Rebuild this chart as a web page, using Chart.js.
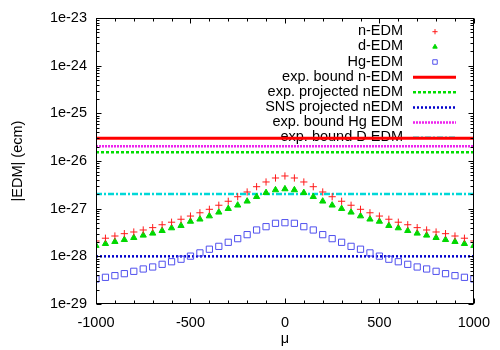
<!DOCTYPE html>
<html>
<head>
<meta charset="utf-8">
<script src="https://cdn.jsdelivr.net/npm/chart.js@4.4.1/dist/chart.umd.min.js"></script>
<style>
html,body{margin:0;padding:0;background:#fff;}
#c{display:block;}
</style>
</head>
<body>
<canvas id="c" width="500" height="350"></canvas>
<script>
// ---- data ----
const muValues = [-1000,-950,-900,-850,-800,-750,-700,-650,-600,-550,-500,-450,-400,-350,-300,-250,-200,-150,-100,-50,0,
                  50,100,150,200,250,300,350,400,450,500,550,600,650,700,750,800,850,900,950,1000];

const nEDM = [2.1e-28,2.4e-28,2.67e-28,2.99e-28,3.24e-28,3.57e-28,4.0e-28,4.6e-28,5.2e-28,6.0e-28,7.0e-28,8.2e-28,9.7e-28,1.18e-27,1.43e-27,1.78e-27,2.24e-27,2.89e-27,3.63e-27,4.4e-27,4.85e-27,
              4.4e-27,3.63e-27,2.89e-27,2.24e-27,1.78e-27,1.43e-27,1.18e-27,9.7e-28,8.2e-28,7.0e-28,6.0e-28,5.2e-28,4.6e-28,4.0e-28,3.57e-28,3.24e-28,2.99e-28,2.67e-28,2.4e-28,2.1e-28];

const dEDM = [1.68e-28,1.84e-28,2.03e-28,2.23e-28,2.46e-28,2.76e-28,3.04e-28,3.45e-28,3.93e-28,4.4e-28,5.4e-28,6.0e-28,7.0e-28,8.4e-28,1.0e-27,1.18e-27,1.43e-27,1.78e-27,2.16e-27,2.47e-27,2.59e-27,
              2.47e-27,2.16e-27,1.78e-27,1.43e-27,1.18e-27,1.0e-27,8.4e-28,7.0e-28,6.0e-28,5.4e-28,4.4e-28,3.93e-28,3.45e-28,3.04e-28,2.76e-28,2.46e-28,2.23e-28,2.03e-28,1.84e-28,1.68e-28];

const hgEDM = [3.35e-29,3.63e-29,3.93e-29,4.33e-29,4.85e-29,5.43e-29,5.98e-29,6.8e-29,7.7e-29,8.7e-29,1.01e-28,1.18e-28,1.41e-28,1.62e-28,1.97e-28,2.35e-28,2.85e-28,3.57e-28,4.19e-28,4.93e-28,5.08e-28,
               4.93e-28,4.19e-28,3.57e-28,2.85e-28,2.35e-28,1.97e-28,1.62e-28,1.41e-28,1.18e-28,1.01e-28,8.7e-29,7.7e-29,6.8e-29,5.98e-29,5.43e-29,4.85e-29,4.33e-29,3.93e-29,3.63e-29,3.35e-29];

const boundLabels = ['exp. bound n-EDM','exp. projected nEDM','SNS projected nEDM','exp. bound Hg EDM','exp. bound D EDM'];
const boundValues = [3.0e-26, 1.52e-26, 1.0e-28, 2.04e-26, 2.03e-27];
const boundRange = [-1000, 1000];

const pointLabels = ['n-EDM','d-EDM','Hg-EDM'];

const xTickValues = [-1000,-500,0,500,1000];
const xTickLabels = ['-1000','-500','0','500','1000'];
const yTickValues = [1e-29,1e-28,1e-27,1e-26,1e-25,1e-24,1e-23];
const yTickLabels = ['1e-29','1e-28','1e-27','1e-26','1e-25','1e-24','1e-23'];

const xTitle = 'μ';
const yTitle = '|EDM| (ecm)';

// ---- styling ----
const FONT = '"Liberation Sans", Arial, Helvetica, sans-serif';
const FS = 14.5;
const pointStyles = [
  {pointStyle:'cross', radius:3.6, color:'#ff1a1a', fill:false},
  {pointStyle:'triangle', radius:3.6, color:'#00d800', fill:true},
  {pointStyle:'rect', radius:4.4, color:'#5050ee', fill:false}
];
const lineStyles = [
  {color:'#ff0000', width:3, dash:[]},
  {color:'#00dd00', width:2.5, dash:[3,2]},
  {color:'#0000cc', width:2.5, dash:[2,2]},
  {color:'#ee22ee', width:2.5, dash:[2,1]},
  {color:'#00d8d8', width:2.5, dash:[6,2,2,2]}
];

function pairs(xs, ys){ return xs.map((x,i)=>({x:x, y:ys[i]})); }

const datasets = [];
[nEDM, dEDM, hgEDM].forEach((arr, i) => {
  const s = pointStyles[i];
  datasets.push({
    label: pointLabels[i],
    data: pairs(muValues, arr),
    showLine: false,
    pointStyle: s.pointStyle,
    pointRadius: s.radius,
    pointHoverRadius: s.radius,
    borderColor: s.color,
    backgroundColor: s.fill ? s.color : 'rgba(0,0,0,0)',
    pointBorderWidth: 1,
    borderWidth: 1,
    order: 1
  });
});
boundValues.forEach((v, i) => {
  const s = lineStyles[i];
  datasets.push({
    label: boundLabels[i],
    data: pairs(boundRange, [v, v]),
    showLine: true,
    pointRadius: 0,
    borderColor: s.color,
    backgroundColor: s.color,
    borderWidth: s.width,
    borderDash: s.dash,
    order: 2
  });
});

// legend drawn inside the plot, gnuplot style (text right aligned, sample at right)
const gnuLegend = {
  id: 'gnuLegend',
  beforeDatasetsDraw(chart) {
    const ctx = chart.ctx;
    const textRight = 403, sampleL = 413, sampleR = 456, y0 = 30.7, dy = 15.15;
    ctx.save();
    ctx.font = FS + 'px ' + FONT;
    ctx.textAlign = 'right';
    ctx.textBaseline = 'middle';
    chart.data.datasets.forEach((ds, i) => {
      const y = y0 + i * dy;
      ctx.fillStyle = '#000';
      ctx.fillText(ds.label, textRight, y + 0.5);
      if (ds.showLine) {
        ctx.save();
        ctx.strokeStyle = ds.borderColor;
        ctx.lineWidth = ds.borderWidth;
        ctx.setLineDash(ds.borderDash || []);
        ctx.beginPath();
        ctx.moveTo(sampleL, y + 1);
        ctx.lineTo(sampleR, y + 1);
        ctx.stroke();
        ctx.restore();
      } else {
        ctx.save();
        ctx.strokeStyle = ds.borderColor;
        ctx.fillStyle = ds.backgroundColor;
        ctx.lineWidth = 1;
        Chart.helpers.drawPoint(ctx, {pointStyle: ds.pointStyle, radius: ds.pointRadius * 0.72, rotation: 0, borderWidth: 1}, 435, y + 1);
        ctx.restore();
      }
    });
    ctx.restore();
  }
};

// inward ticks on all four sides + frame
const frameTicks = {
  id: 'frameTicks',
  afterDraw(chart) {
    const {ctx, chartArea: a, scales} = chart;
    const xs = scales.x, ys = scales.y;
    const L = Math.round(a.left) + 0.5, R = Math.round(a.right) - 0.5;
    const T = Math.round(a.top) + 0.5, B = Math.round(a.bottom) - 0.5;
    ctx.save();
    ctx.strokeStyle = '#000';
    ctx.lineWidth = 1;
    ctx.beginPath();
    const major = 5, minor = 3;
    for (let v = -1000; v <= 1000; v += 100) {
      const px = Math.round(xs.getPixelForValue(v)) + 0.5;
      const len = (v % 500 === 0) ? major : minor;
      ctx.moveTo(px, B); ctx.lineTo(px, B - len);
      ctx.moveTo(px, T); ctx.lineTo(px, T + len);
    }
    yTickValues.forEach((dec, k) => {
      for (let m = 1; m <= 9; m++) {
        if (k === yTickValues.length - 1 && m > 1) break;
        const py = Math.round(ys.getPixelForValue(dec * m)) + 0.5;
        const len = (m === 1) ? major : minor;
        ctx.moveTo(L, py); ctx.lineTo(L + len, py);
        ctx.moveTo(R, py); ctx.lineTo(R - len, py);
      }
    });
    ctx.stroke();
    ctx.strokeRect(L, T, R - L, B - T);
    ctx.restore();
  }
};

new Chart(document.getElementById('c'), {
  type: 'scatter',
  data: { datasets },
  options: {
    responsive: false,
    animation: false,
    events: [],
    layout: { padding: { left: 0, right: 26, top: 18, bottom: 0 } },
    plugins: { legend: { display: false }, tooltip: { enabled: false } },
    scales: {
      x: {
        type: 'linear', min: -1000, max: 1000,
        afterBuildTicks: s => { s.ticks = xTickValues.map(v => ({value: v})); },
        afterFit: s => { s.height = 46; },
        grid: { display: false, drawTicks: false },
        border: { display: false },
        ticks: { color: '#000', font: { family: FONT, size: FS }, padding: 10, maxRotation: 0, autoSkip: false,
                 callback: (v, i) => xTickLabels[i] },
        title: { display: true, text: xTitle, color: '#000', font: { family: FONT, size: FS }, padding: { top: 0, bottom: 2 } }
      },
      y: {
        type: 'logarithmic', min: 1e-29, max: 1e-23,
        afterBuildTicks: s => { s.ticks = yTickValues.map(v => ({value: v})); },
        afterFit: s => { s.width = 96; },
        grid: { display: false, drawTicks: false },
        border: { display: false },
        ticks: { color: '#000', font: { family: FONT, size: FS }, padding: 9, autoSkip: false,
                 callback: (v, i) => yTickLabels[i] },
        title: { display: true, text: yTitle, color: '#000', font: { family: FONT, size: FS }, padding: { top: 9, bottom: 0 } }
      }
    }
  },
  plugins: [gnuLegend, frameTicks]
});
</script>
</body>
</html>
